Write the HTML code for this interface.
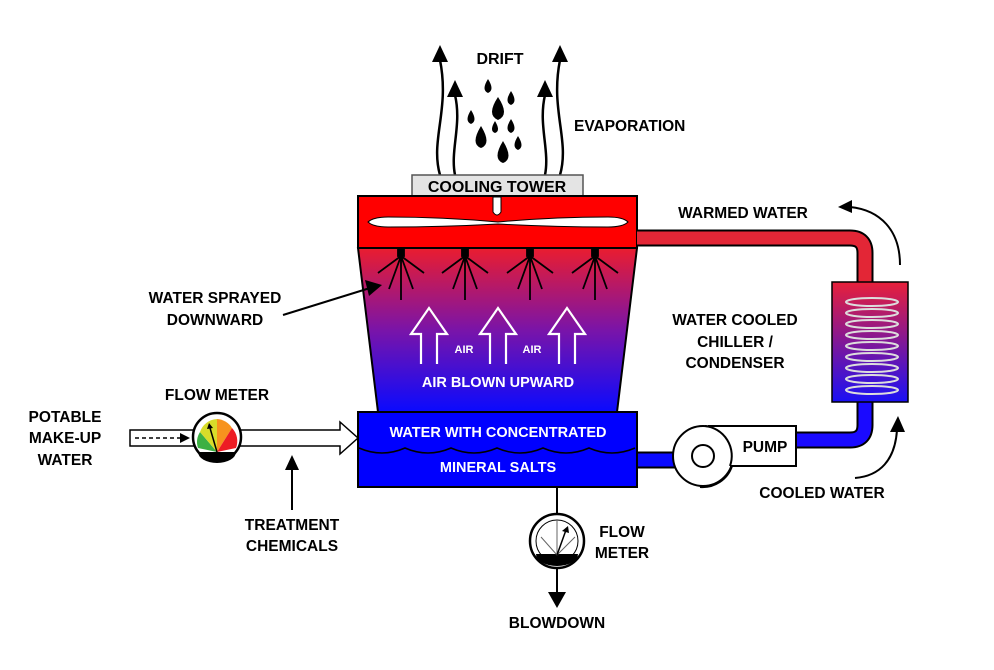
<!DOCTYPE html>
<html><head><meta charset="utf-8"><style>
html,body{margin:0;padding:0;background:#fff}
svg{display:block}
text{font-family:"Liberation Sans",sans-serif;font-weight:bold}
</style></head><body>
<svg width="994" height="670" viewBox="0 0 994 670" xmlns="http://www.w3.org/2000/svg">
<defs>
<linearGradient id="g" x1="0" y1="0" x2="0" y2="1"><stop offset="0" stop-color="#ea1d2f"/><stop offset="0.5" stop-color="#7a14a8"/><stop offset="1" stop-color="#0a0aff"/></linearGradient>
<linearGradient id="g2" x1="0" y1="0" x2="0" y2="1"><stop offset="0" stop-color="#e8203a"/><stop offset="1" stop-color="#1a10f5"/></linearGradient>
</defs>
<g fill="none" stroke="#000" stroke-width="2.5">
<path d="M440,175 C430,140 450,110 440,60"/><path d="M455,175 C450,150 462,125 455,95"/>
<path d="M560,175 C570,140 550,110 560,60"/><path d="M545,175 C550,150 538,125 545,95"/>
</g>
<g fill="#000">
<path d="M432,62 L440,45 L448,62z"/><path d="M447,97 L455,80 L463,97z"/>
<path d="M552,62 L560,45 L568,62z"/><path d="M537,97 L545,80 L553,97z"/>
</g>
<g fill="#000">
<path d="M488,79 q-7,11 0,14 q7,-3 0,-14z"/>
<path d="M498,97 q-12,18 0,23 q12,-5 0,-23z"/>
<path d="M511,91 q-7,11 0,14 q7,-3 0,-14z"/>
<path d="M471,110 q-7,11 0,14 q7,-3 0,-14z"/>
<path d="M495,121 q-6,10 0,12 q6,-2 0,-12z"/>
<path d="M511,119 q-7,11 0,14 q7,-3 0,-14z"/>
<path d="M481,126 q-11,18 0,22 q11,-4 0,-22z"/>
<path d="M518,136 q-7,11 0,14 q7,-3 0,-14z"/>
<path d="M503,141 q-11,18 0,22 q11,-4 0,-22z"/>
</g>
<text x="500" y="64" font-size="16" text-anchor="middle">DRIFT</text>
<text x="574" y="131" font-size="15.5">EVAPORATION</text>
<rect x="412" y="175" width="171" height="21" fill="#e4e4e4" stroke="#555" stroke-width="1.5"/>
<text x="497" y="192" font-size="16" text-anchor="middle">COOLING TOWER</text>
<path d="M358,248 L637,248 L617,412 L378,412z" fill="url(#g)" stroke="#000" stroke-width="2"/>
<rect x="358" y="196" width="279" height="52" fill="#ff0000" stroke="#000" stroke-width="2"/>
<path d="M493,197 v15 q4,6 8,0 v-15z" fill="#fff" stroke="#000" stroke-width="1"/>
<path d="M368,222 q5,-5 20,-5 q55,0 110,5 q55,-5 110,-5 q15,0 20,5 q-5,5 -20,5 q-55,0 -110,-3 q-55,3 -110,3 q-15,0 -20,-5z" fill="#fff" stroke="#000" stroke-width="1"/>
<g stroke="#000" stroke-width="1.8">
<g id="sp"><rect x="398" y="249" width="6" height="7" fill="#000"/><path d="M401,256 L378,273 M401,256 L389,289 M401,256 L401,300 M401,256 L413,289 M401,256 L424,273"/></g>
<use href="#sp" x="64"/><use href="#sp" x="129"/><use href="#sp" x="194"/>
</g>
<g fill="none" stroke="#fff" stroke-width="2.2">
<path d="M421,364 V334 H411 L429,308 L447,334 H437 V364"/>
<path d="M490,364 V334 H480 L498,308 L516,334 H506 V364"/>
<path d="M559,364 V334 H549 L567,308 L585,334 H575 V364"/>
</g>
<g fill="#fff">
<text x="464" y="353" font-size="11" text-anchor="middle">AIR</text>
<text x="532" y="353" font-size="11" text-anchor="middle">AIR</text>
<text x="498" y="387" font-size="14.5" text-anchor="middle">AIR BLOWN UPWARD</text>
</g>
<path d="M637,238 H850 q15,0 15,15 V282" fill="none" stroke="#000" stroke-width="17"/>
<path d="M637,238 H850 q15,0 15,15 V282" fill="none" stroke="#e32636" stroke-width="13"/>
<path d="M865,402 V425 q0,15 -15,15 H795" fill="none" stroke="#000" stroke-width="17"/>
<path d="M865,402 V425 q0,15 -15,15 H795" fill="none" stroke="#1a0aff" stroke-width="13"/>
<path d="M637,460 H680" fill="none" stroke="#000" stroke-width="17"/>
<path d="M637,460 H680" fill="none" stroke="#0a0aff" stroke-width="13"/>
<rect x="358" y="412" width="279" height="75" fill="#0000ff" stroke="#000" stroke-width="2"/>
<path d="M359,448 q23,10 46,0 q23,10 46,0 q23,10 46,0 q23,10 46,0 q23,10 46,0 q23,10 46,0" fill="none" stroke="#000" stroke-width="1.5"/>
<text x="498" y="437" font-size="14.5" fill="#fff" text-anchor="middle">WATER WITH CONCENTRATED</text>
<text x="498" y="472" font-size="14.5" fill="#fff" text-anchor="middle">MINERAL SALTS</text>
<rect x="832" y="282" width="76" height="120" fill="url(#g2)" stroke="#000" stroke-width="1.5"/>
<g fill="none" stroke="#ddd" stroke-width="2">
<ellipse cx="872" cy="302" rx="26" ry="4"/>
<ellipse cx="872" cy="313" rx="26" ry="4"/>
<ellipse cx="872" cy="324" rx="26" ry="4"/>
<ellipse cx="872" cy="335" rx="26" ry="4"/>
<ellipse cx="872" cy="346" rx="26" ry="4"/>
<ellipse cx="872" cy="357" rx="26" ry="4"/>
<ellipse cx="872" cy="368" rx="26" ry="4"/>
<ellipse cx="872" cy="379" rx="26" ry="4"/>
<ellipse cx="872" cy="390" rx="26" ry="4"/>
</g>
<text x="735" y="325" font-size="15.5" text-anchor="middle">WATER COOLED</text>
<text x="735" y="347" font-size="15.5" text-anchor="middle">CHILLER /</text>
<text x="735" y="368" font-size="15.5" text-anchor="middle">CONDENSER</text>
<text x="743" y="218" font-size="15.5" text-anchor="middle">WARMED WATER</text>
<text x="822" y="498" font-size="15.5" text-anchor="middle">COOLED WATER</text>
<path d="M900,265 C900,230 880,210 850,207" fill="none" stroke="#000" stroke-width="2"/>
<path d="M852,200 L838,207 L852,213z" fill="#000"/>
<path d="M855,478 C880,476 895,460 897,430" fill="none" stroke="#000" stroke-width="2"/>
<path d="M890,432 L898,416 L905,432z" fill="#000"/>
<circle cx="703" cy="456" r="30" fill="#fff" stroke="#000" stroke-width="2"/>
<path d="M708,426 H796 V466 H730" fill="#fff" stroke="#000" stroke-width="2"/>
<rect x="720" y="428" width="30" height="36" fill="#fff"/>
<path d="M705,426 A30,30 0 0 1 730,466" fill="none" stroke="#000" stroke-width="2"/>
<path d="M732,466 A31,31 0 0 1 700,487" fill="none" stroke="#000" stroke-width="2"/>
<circle cx="703" cy="456" r="11" fill="#fff" stroke="#000" stroke-width="2"/>
<text x="765" y="452" font-size="15.5" text-anchor="middle">PUMP</text>
<path d="M130,430 H340 V422 L358,438 L340,454 V446 H130z" fill="#fff" stroke="#000" stroke-width="1.5"/>
<path d="M135,438 H180" stroke="#000" stroke-width="1.5" stroke-dasharray="4,3"/>
<path d="M180,433 L190,438 L180,443z" fill="#000"/>
<circle cx="217" cy="437" r="24" fill="#fff" stroke="#000" stroke-width="2.5"/>
<path d="M217,452 L198,448 A19,19 0 0 1 200,432z" fill="#3cb043"/>
<path d="M217,452 L200,432 A19,19 0 0 1 217,419z" fill="#d8dc2a"/>
<path d="M217,452 L217,419 A19,19 0 0 1 232,428z" fill="#f7931e"/>
<path d="M217,452 L232,428 A19,19 0 0 1 236,448z" fill="#ed1c24"/>
<path d="M198,452 H236 A19,11 0 0 1 198,452z" fill="#000"/>
<path d="M217,452 L210,428" stroke="#000" stroke-width="1.5"/>
<path d="M207,429 L209,423 L213,428z" fill="#000"/>
<text x="217" y="400" font-size="15.5" text-anchor="middle">FLOW METER</text>
<text x="65" y="422" font-size="15.5" text-anchor="middle">POTABLE</text>
<text x="65" y="443" font-size="15.5" text-anchor="middle">MAKE-UP</text>
<text x="65" y="465" font-size="15.5" text-anchor="middle">WATER</text>
<path d="M292,510 V468" stroke="#000" stroke-width="2"/>
<path d="M285,470 L292,455 L299,470z" fill="#000"/>
<text x="292" y="530" font-size="15.5" text-anchor="middle">TREATMENT</text>
<text x="292" y="551" font-size="15.5" text-anchor="middle">CHEMICALS</text>
<text x="215" y="303" font-size="15.5" text-anchor="middle">WATER SPRAYED</text>
<text x="215" y="325" font-size="15.5" text-anchor="middle">DOWNWARD</text>
<path d="M283,315 L370,288" stroke="#000" stroke-width="2"/>
<path d="M365,280 L382,285 L369,296z" fill="#000"/>
<path d="M557,487 V595" stroke="#000" stroke-width="2"/>
<path d="M548,592 L557,608 L566,592z" fill="#000"/>
<circle cx="557" cy="541" r="27" fill="#fff" stroke="#000" stroke-width="2.5"/>
<circle cx="557" cy="541" r="21" fill="#fff" stroke="#000" stroke-width="1"/>
<path d="M536,554 H578 A21,12 0 0 1 536,554z" fill="#000"/>
<path d="M557,555 L541,537 M557,555 L557,520 M557,555 L575,537" stroke="#666" stroke-width="1"/>
<path d="M557,555 L566,530" stroke="#000" stroke-width="1.5"/>
<path d="M562,531 L568,526 L569,533z" fill="#000"/>
<text x="622" y="537" font-size="15.5" text-anchor="middle">FLOW</text>
<text x="622" y="558" font-size="15.5" text-anchor="middle">METER</text>
<text x="557" y="628" font-size="15.5" text-anchor="middle">BLOWDOWN</text>
</svg>
</body></html>
